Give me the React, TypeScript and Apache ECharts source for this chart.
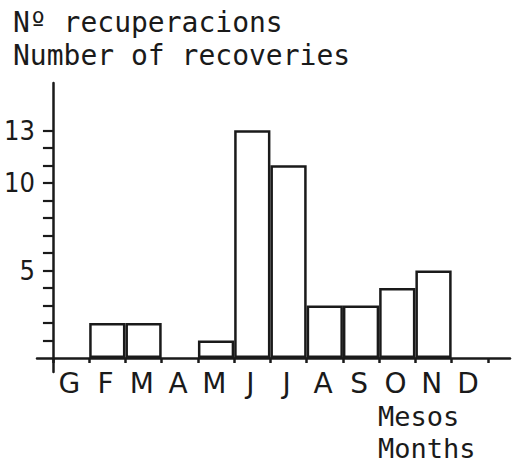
import React, { useEffect, useRef } from "react";
import * as echarts from "echarts";

const months = ["G", "F", "M", "A", "M", "J", "J", "A", "S", "O", "N", "D"];
const recoveries = [0, 2, 2, 0, 1, 13, 11, 3, 3, 4, 5, 0];
const yTickValues = [1, 2, 3, 4, 5, 6, 7, 8, 9, 10, 11, 12, 13];
const yLabelValues = [5, 10, 13];
const titleLine1 = "Nº recuperacions";
const titleLine2 = "Number of recoveries";
const xName1 = "Mesos";
const xName2 = "Months";

export default function App() {
  const ref = useRef<HTMLDivElement>(null);
  useEffect(() => {
    if (!ref.current) return;
    const chart = echarts.init(ref.current, undefined, { renderer: "svg" });
    const ink = "#1a1a1a";
    const monthCenters = months.map((_, i) => i + 0.45);
    const edges = months.map((_, i) => i).concat([months.length]);
    const barData = recoveries
      .map((v, i) => (v > 0 ? [i + 0.5, v] : null))
      .filter((d) => d !== null);
    chart.setOption({
      animation: false,
      backgroundColor: "#ffffff",
      grid: {
        left: 37,
        right: 3,
        top: 83,
        bottom: 92,
        outerBoundsMode: "none",
      },
      xAxis: {
        type: "value",
        min: -0.44,
        max: 12.61,
        splitLine: { show: false },
        axisLine: { show: true, onZero: true, lineStyle: { color: ink, width: 2.5 } },
        axisTick: {
          show: true,
          customValues: edges,
          length: 5,
          lineStyle: { color: ink, width: 2.5 },
        },
        axisLabel: {
          customValues: monthCenters,
          formatter: (v: number) => months[Math.round(v - 0.45)] ?? "",
          color: ink,
          fontFamily: "DejaVu Sans",
          fontSize: 28,
          margin: -3,
        },
      },
      yAxis: {
        type: "value",
        min: -0.8,
        max: 15.7,
        splitLine: { show: false },
        axisLine: { show: true, onZero: true, lineStyle: { color: ink, width: 2.5 } },
        axisTick: {
          show: true,
          customValues: yTickValues,
          length: 10,
          lineStyle: { color: ink, width: 2.2 },
        },
        axisLabel: {
          customValues: yLabelValues,
          color: ink,
          fontFamily: "DejaVu Sans Condensed",
          fontSize: 27,
          margin: 2,
        },
      },
      series: [
        {
          type: "bar",
          data: barData,
          barWidth: "100%",
          itemStyle: { color: "#ffffff", borderColor: ink, borderWidth: 2.5 },
          silent: true,
        },
      ],
      graphic: [
        {
          type: "text",
          left: 13,
          top: 8,
          style: { text: titleLine1, fill: ink, font: "28px 'DejaVu Sans Mono'" },
        },
        {
          type: "text",
          left: 13,
          top: 41,
          style: { text: titleLine2, fill: ink, font: "28px 'DejaVu Sans Mono'" },
        },
        {
          type: "text",
          left: 378,
          top: 403,
          style: { text: xName1, fill: ink, font: "27px 'DejaVu Sans Mono'" },
        },
        {
          type: "text",
          left: 378,
          top: 435,
          style: { text: xName2, fill: ink, font: "27px 'DejaVu Sans Mono'" },
        },
      ],
    });
    return () => chart.dispose();
  }, []);
  return (
    <div
      ref={ref}
      style={{ position: "absolute", left: 0, top: 0, width: 513, height: 464 }}
    />
  );
}
